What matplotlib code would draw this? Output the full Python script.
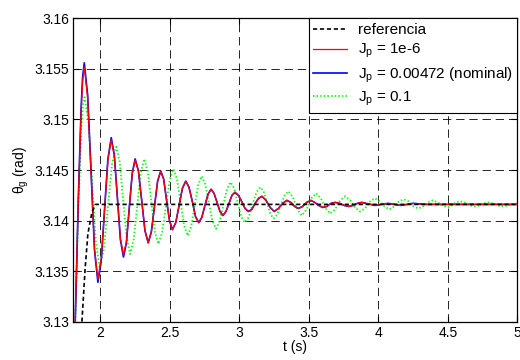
import matplotlib
matplotlib.use("Agg")
import matplotlib.pyplot as plt

plt.rcParams['font.family'] = ['Liberation Sans', 'DejaVu Sans']
plt.rcParams['lines.scale_dashes'] = False
plt.rcParams['mathtext.fontset'] = 'custom'
plt.rcParams['mathtext.rm'] = 'Liberation Sans'
plt.rcParams['mathtext.it'] = 'Liberation Sans'

# ---- data ----
t_ref = [1.868, 1.892, 1.911, 1.940, 1.964, 5.000]
y_ref = [3.1300, 3.1354, 3.1387, 3.1408, 3.1416, 3.1416]

t_osc = [1.804, 1.820, 1.842, 1.862, 1.873, 1.885,
         1.9095, 1.934, 1.9585, 1.983,
         2.007, 2.031, 2.055, 2.079,
         2.101, 2.123, 2.145, 2.167,
         2.188, 2.209, 2.230, 2.251,
         2.2745, 2.298, 2.3215, 2.345,
         2.3675, 2.390, 2.4125, 2.435,
         2.456, 2.477, 2.498, 2.519,
         2.543, 2.567, 2.591, 2.615,
         2.638, 2.662, 2.685, 2.708,
         2.730, 2.753, 2.775, 2.797,
         2.818, 2.840, 2.861, 2.882,
         2.904, 2.926, 2.947, 2.969,
         2.993, 3.017, 3.041, 3.065,
         3.0895, 3.114, 3.1385, 3.163,
         3.192, 3.222, 3.251, 3.281, 3.312, 3.342, 3.370, 3.398, 3.426,
         3.455, 3.485, 3.514, 3.543, 3.571, 3.600, 3.630, 3.659, 3.689,
         3.722, 3.754, 3.787, 3.818, 3.849, 3.880, 3.912, 3.944, 3.976,
         4.070, 4.160, 4.250, 4.340, 4.500, 5.000]
y_nominal = [3.1230, 3.1300, 3.1420, 3.1510, 3.1542, 3.1556,
             3.1524, 3.1448, 3.1371, 3.1339,
             3.1360, 3.1411, 3.1461, 3.1482,
             3.1465, 3.1423, 3.1381, 3.1364,
             3.1378, 3.1413, 3.1447, 3.1461,
             3.1449, 3.1420, 3.1390, 3.1378,
             3.1389, 3.1414, 3.1439, 3.1449,
             3.1441, 3.1420, 3.1400, 3.1391,
             3.1398, 3.1415, 3.1432, 3.1439,
             3.1433, 3.1419, 3.1404, 3.1398,
             3.1403, 3.1415, 3.1426, 3.1431,
             3.1427, 3.1418, 3.1409, 3.1405,
             3.1409, 3.1417, 3.1425, 3.1428,
             3.1425, 3.1419, 3.1412, 3.1409,
             3.1411, 3.1417, 3.1422, 3.1424,
             3.1420, 3.1413, 3.1409, 3.1412, 3.1417, 3.1420, 3.1418, 3.1414, 3.1412,
             3.1414, 3.1418, 3.1420, 3.1418, 3.1415, 3.1413, 3.1414, 3.1417, 3.1418,
             3.1417, 3.1415, 3.1414, 3.1415, 3.1417, 3.1418, 3.1417, 3.1416, 3.1415,
             3.1417, 3.1415, 3.1417, 3.1416, 3.1416, 3.1416]
y_small_start = [3.1236, 3.1303, 3.1420, 3.1507, 3.1538, 3.1552,
                 3.1521, 3.1447, 3.1372, 3.1342,
                 3.1362, 3.1411, 3.1460, 3.1480,
                 3.1464, 3.1423, 3.1382, 3.1366,
                 3.1379, 3.1413, 3.1446, 3.1460]
y_small = y_small_start + y_nominal[len(y_small_start):]

t_big = [1.804, 1.822, 1.845, 1.865, 1.877, 1.888,
         1.915, 1.9415, 1.968, 1.995,
         2.025, 2.055, 2.085, 2.115,
         2.140, 2.165, 2.190, 2.215,
         2.240, 2.2655, 2.291, 2.316,
         2.3415, 2.367, 2.3925, 2.418,
         2.445, 2.472, 2.499, 2.526,
         2.552, 2.5775, 2.603, 2.629,
         2.654, 2.679, 2.704, 2.729,
         2.755, 2.7805, 2.806, 2.832,
         2.858, 2.8845, 2.911, 2.937,
         2.9625, 2.988, 3.0135, 3.039,
         3.067, 3.095, 3.123, 3.151,
         3.175, 3.1985, 3.222, 3.246,
         3.273, 3.300, 3.327, 3.354,
         3.386, 3.418, 3.450, 3.484, 3.519, 3.553, 3.586, 3.620, 3.653,
         3.689, 3.725, 3.761, 3.797, 3.832, 3.868, 3.904, 3.940, 3.976,
         4.010, 4.045, 4.079, 4.114, 4.149, 4.184, 4.218, 4.253, 4.287,
         4.321, 4.356, 4.390, 4.427, 4.463, 4.500, 4.529, 4.557, 4.586,
         4.622, 4.658, 4.694, 4.726, 4.758, 4.790, 4.827, 4.863, 4.900,
         4.933, 4.967, 5.000]
y_big = [3.1235, 3.1310, 3.1420, 3.1495, 3.1515, 3.1522,
         3.1497, 3.1438, 3.1379, 3.1354,
         3.1371, 3.1414, 3.1456, 3.1473,
         3.1458, 3.1420, 3.1383, 3.1367,
         3.1381, 3.1414, 3.1447, 3.1461,
         3.1449, 3.1419, 3.1389, 3.1377,
         3.1388, 3.1414, 3.1440, 3.1451,
         3.1441, 3.1418, 3.1395, 3.1385,
         3.1394, 3.1415, 3.1435, 3.1444,
         3.1436, 3.1418, 3.1400, 3.1392,
         3.1399, 3.1415, 3.1431, 3.1438,
         3.1432, 3.1418, 3.1404, 3.1398,
         3.1403, 3.1416, 3.1428, 3.1433,
         3.1429, 3.1418, 3.1407, 3.1402,
         3.1406, 3.1416, 3.1425, 3.1429,
         3.1423, 3.1411, 3.1405, 3.1411, 3.1422, 3.1427, 3.1422, 3.1412, 3.1407,
         3.1411, 3.1420, 3.1424, 3.1420, 3.1413, 3.1409, 3.1412, 3.1419, 3.1422,
         3.1419, 3.1414, 3.1411, 3.1414, 3.1419, 3.1421, 3.1419, 3.1414, 3.1412,
         3.1414, 3.1418, 3.1420, 3.1418, 3.1415, 3.1413, 3.1415, 3.1418, 3.1419,
         3.1418, 3.1415, 3.1414, 3.1415, 3.1417, 3.1418, 3.1417, 3.1415, 3.1414,
         3.1415, 3.1416, 3.1417]

x_ticks = [2, 2.5, 3, 3.5, 4, 4.5, 5]
x_tick_labels = ["2", "2.5", "3", "3.5", "4", "4.5", "5"]
y_ticks = [3.13, 3.135, 3.14, 3.145, 3.15, 3.155, 3.16]
y_tick_labels = ["3.13", "3.135", "3.14", "3.145", "3.15", "3.155", "3.16"]

labels = ["referencia", "$J_p$ = 1e-6", "$J_p$ = 0.00472 (nominal)", "$J_p$ = 0.1"]

# ---- figure ----
fig = plt.figure(figsize=(5.2, 3.6), dpi=100)
ax = fig.add_axes([0.1404, 0.1064, 0.8546, 0.8426])

l_ref, = ax.plot(t_ref, y_ref, color='black', linestyle=(0, (3.0, 2.0)), lw=1.2, zorder=5)
l_nom, = ax.plot(t_osc, y_nominal, color='#0000ff', lw=1.2, zorder=3)
l_small, = ax.plot(t_osc, y_small, color='#ff0000', lw=0.9, zorder=4)
l_big, = ax.plot(t_big, y_big, color='#00ff00', linestyle=(0, (1.0, 1.6)), lw=1.3, zorder=2)

ax.set_xlim(1.804, 5.0)
ax.set_ylim(3.13, 3.16)
ax.set_xticks(x_ticks)
ax.set_xticklabels(x_tick_labels)
ax.set_yticks(y_ticks)
ax.set_yticklabels(y_tick_labels)
ax.tick_params(direction='in', top=True, right=True, labelsize=10, length=4, width=0.8, pad=3)
ax.grid(True, color='black', linestyle=(0, (6, 3.5)), linewidth=0.6)
for s in ax.spines.values():
    s.set_linewidth(0.9)
    s.set_color('black')

ax.set_xlabel("t (s)", fontsize=10, labelpad=0)
ax.set_ylabel(r"$\theta_g$ (rad)", fontsize=10, labelpad=2)

leg = ax.legend([l_ref, l_small, l_nom, l_big], labels, loc='upper right',
                fontsize=11, frameon=True, fancybox=False, framealpha=1,
                edgecolor='black', borderaxespad=0, handlelength=2.2,
                labelspacing=0.33, borderpad=0.3, handletextpad=0.7)
leg.get_frame().set_linewidth(0.8)

fig.savefig("out.png", dpi=100)
